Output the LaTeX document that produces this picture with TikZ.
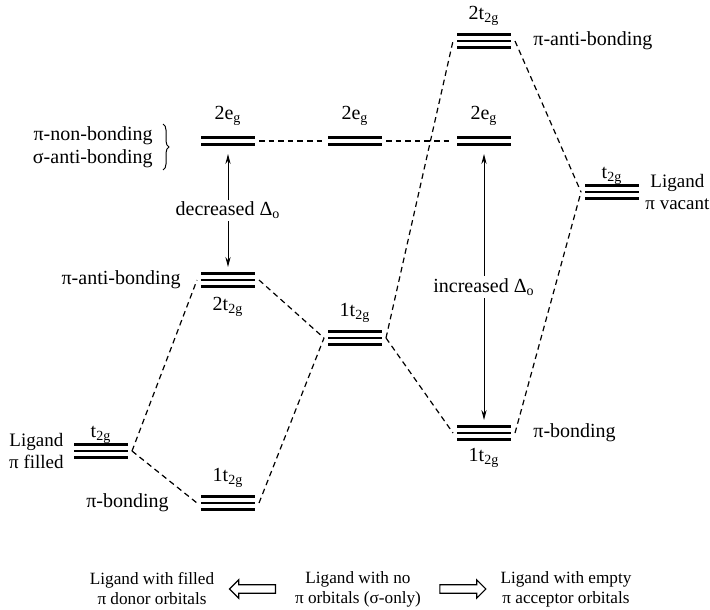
\documentclass[tikz,border=0pt]{standalone}
\usepackage{fontspec}
\setmainfont{Liberation Serif}
\usetikzlibrary{positioning, arrows.meta, shapes.arrows, decorations.pathreplacing}
\newcommand{\ttg}{t\textsubscript{2g}}
\newcommand{\egl}{e\textsubscript{g}}

\begin{document}
\begin{tikzpicture}[x=0.5pt, y=-0.5pt, font=\fontsize{10}{11.5}\selectfont,
  tlev/.style={minimum width=27pt, minimum height=9pt, inner sep=0pt, outer sep=2pt,
    path picture={\foreach \dy in {-3.3pt,0pt,3.3pt}
      \draw[line width=1.4pt] ([yshift=\dy]path picture bounding box.west) -- ([yshift=\dy]path picture bounding box.east);}},
  elev/.style={minimum width=27pt, minimum height=9pt, inner sep=0pt, outer sep=2pt,
    path picture={\foreach \dy in {-1.75pt,1.75pt}
      \draw[line width=1.4pt] ([yshift=\dy]path picture bounding box.west) -- ([yshift=\dy]path picture bounding box.east);}},
  lab/.style={inner sep=1pt},
  ligname/.style={inner sep=1pt, align=center, font=\fontsize{9.5}{11}\selectfont},
  captext/.style={align=center, font=\fontsize{8.6}{10}\selectfont},
  link/.style={dash pattern=on 2.8pt off 2pt, line width=0.6pt},
  gap/.style={{Stealth[length=5pt, width=2.6pt]}-{Stealth[length=5pt, width=2.6pt]}, line width=0.5pt},
  hollow/.style={single arrow, draw, line width=0.6pt, minimum height=23pt, inner sep=1.8pt, single arrow head extend=2.5pt}]
\useasboundingbox (0,0) rectangle (710,609);

\node[tlev] (L) at (101,451) {};
\node[elev] (A2e) at (228,141) {};
\node[tlev] (A2t) at (228,280) {};
\node[tlev] (A1t) at (228,503) {};
\node[elev] (B2e) at (355,141) {};
\node[tlev] (B1t) at (355,338) {};
\node[tlev] (C2t) at (484,41) {};
\node[elev] (C2e) at (484,141) {};
\node[tlev] (C1t) at (484,433) {};
\node[tlev] (R) at (612,192) {};

\node[lab, above=-4pt of L] (Llab) {\ttg};
\node[ligname, left=2pt of L] (Lname) {Ligand\\π filled};
\node[lab, above=0pt of A2e] (A2elab) {2\egl};
\node[lab, left=21pt of A2e, yshift=-3pt, align=right] (nbtxt) {π-non-bonding\\σ-anti-bonding};
\node[lab, left=7pt of A2t] (A2tname) {π-anti-bonding};
\node[lab, below=1pt of A2t] (A2tlab) {2\ttg};
\node[lab, above=0pt of A1t] (A1tlab) {1\ttg};
\node[lab, left=13pt of A1t] (A1tname) {π-bonding};
\node[lab, above=0pt of B2e] (B2elab) {2\egl};
\node[lab, above=0pt of B1t] (B1tlab) {1\ttg};
\node[lab, above=0pt of C2t] (C2tlab) {2\ttg};
\node[lab, right=8pt of C2t] (C2tname) {π-anti-bonding};
\node[lab, above=0pt of C2e] (C2elab) {2\egl};
\node[lab, below=0pt of C1t] (C1tlab) {1\ttg};
\node[lab, right=8pt of C1t] (C1tname) {π-bonding};
\node[lab, above=-4pt of R] (Rlab) {\ttg};
\node[ligname, right=0pt of R] (Rname) {Ligand\\π vacant};

\draw[decorate, decoration={brace, amplitude=3pt}, line width=0.5pt] ([xshift=4pt]nbtxt.north east) -- ([xshift=4pt]nbtxt.south east);

\draw[link] (A2e.east) -- (B2e.west);
\draw[link] (B2e.east) -- (C2e.west);
\draw[link] (L.east) -- (A2t.west);
\draw[link] (L.east) -- (A1t.west);
\draw[link] (A2t.east) -- (B1t.west);
\draw[link] (A1t.east) -- (B1t.west);
\draw[link] (B1t.east) -- (C2t.west);
\draw[link] (B1t.east) -- (C1t.west);
\draw[link] (C2t.east) -- (R.west);
\draw[link] (C1t.east) -- (R.west);

\draw[gap] (A2e) -- node[lab, fill=white] (declab) {decreased Δ\textsubscript{o}} (A2t);
\draw[gap] (C2e) -- node[lab, fill=white] (inclab) {increased Δ\textsubscript{o}} (C1t);

\node[captext] (capL) at (152,589) {Ligand with filled\\π donor orbitals};
\node[captext] (capM) at (358,589) {Ligand with no\\π orbitals (σ-only)};
\node[captext] (capR) at (566,589) {Ligand with empty\\π acceptor orbitals};
\path (capL.east) -- node[hollow, shape border rotate=180] (toL) {} (capM.west);
\path (capM.east) -- node[hollow] (toR) {} (capR.west);
\end{tikzpicture}
\end{document}
